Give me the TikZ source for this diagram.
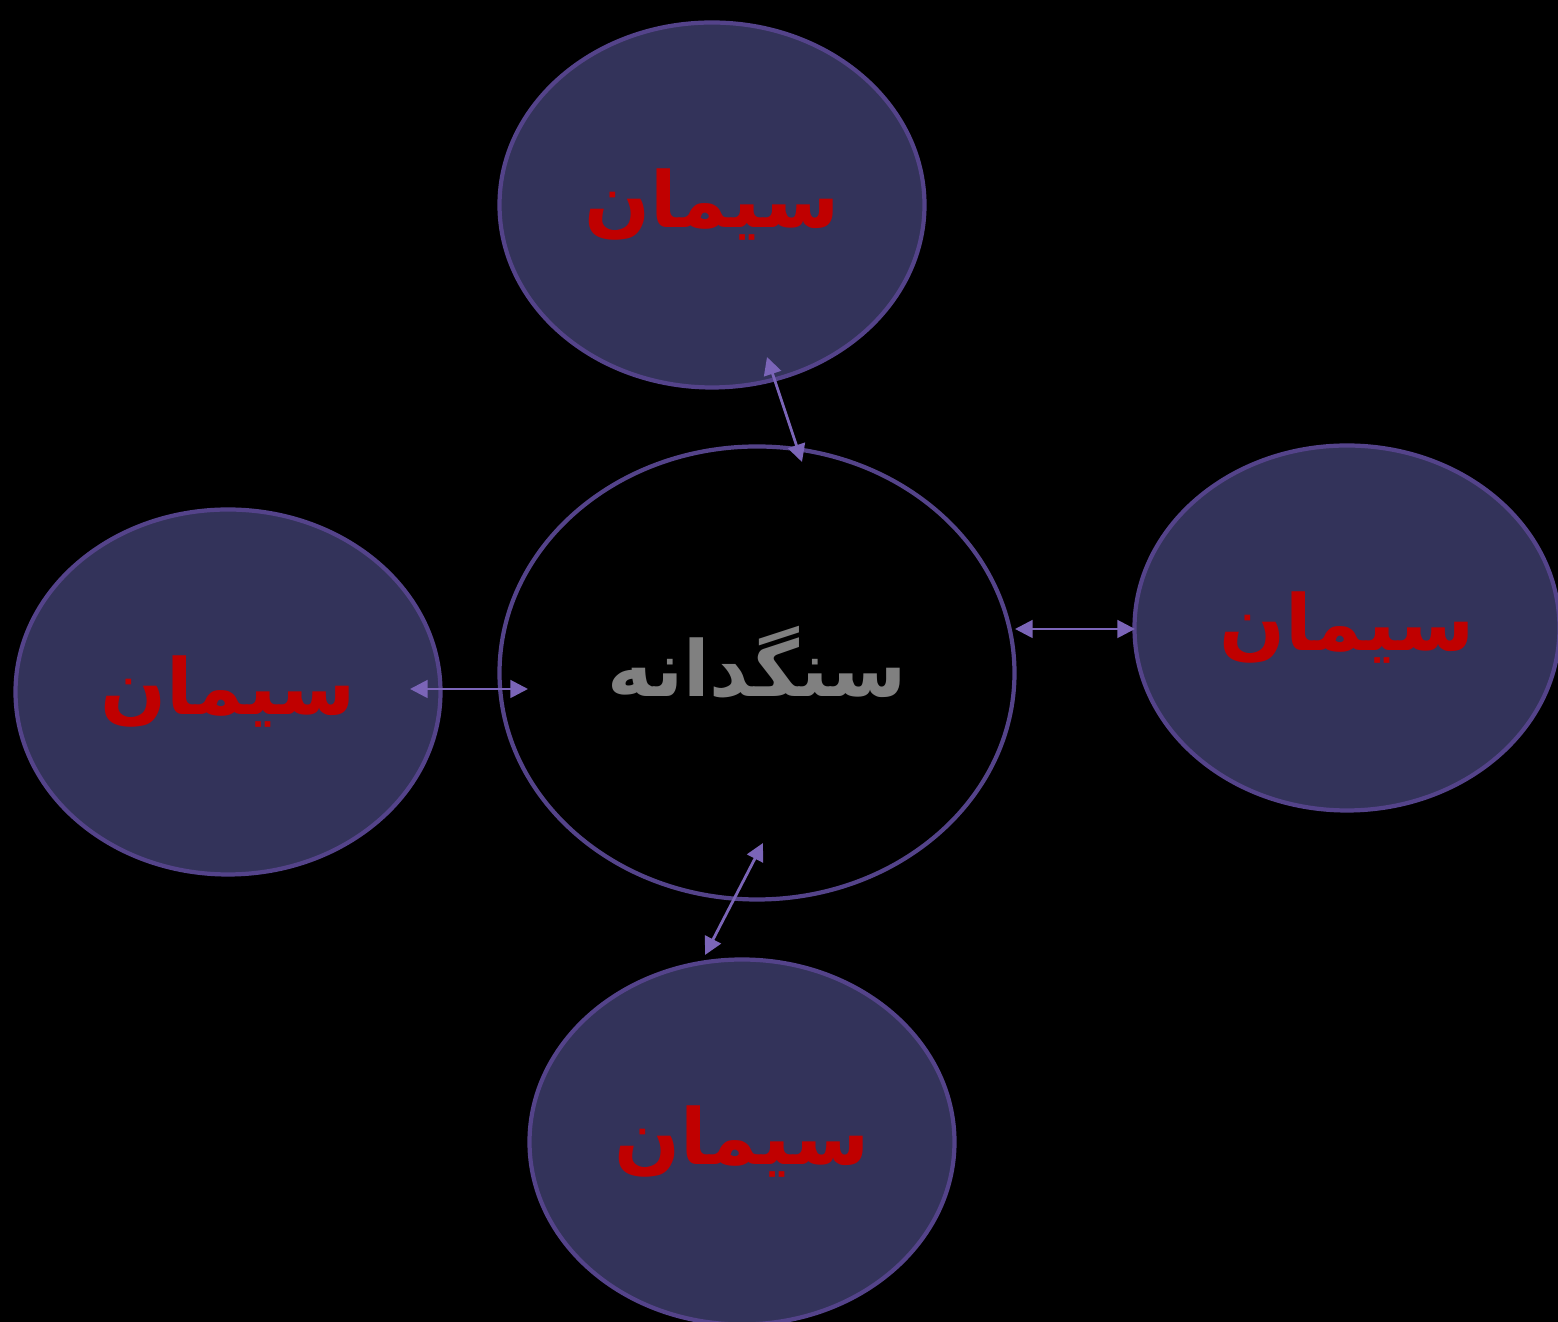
\documentclass[tikz,border=0pt]{standalone}
\usepackage{fontspec}
\newfontfamily\arabicfont[Script=Arabic]{DejaVu Sans}
\TeXXeTstate=1
\usetikzlibrary{arrows.meta, positioning, shapes.geometric}

\definecolor{cellfill}{HTML}{33335A}
\definecolor{cellline}{HTML}{54438A}
\definecolor{linkcol}{HTML}{7B65B8}
\definecolor{cementred}{HTML}{C00000}
\definecolor{stonegray}{HTML}{808080}

\begin{document}
\begin{tikzpicture}[
        cement/.style={ellipse, draw=cellline, fill=cellfill, line width=1.2pt, minimum width=4.25cm, minimum height=3.65cm, inner sep=0pt, text=cementred, font=\arabicfont\bfseries\fontsize{22}{26}\selectfont},
        aggregate/.style={ellipse, draw=cellline, line width=1.2pt, minimum width=5.15cm, minimum height=4.53cm, inner sep=0pt, text=stonegray, font=\arabicfont\bfseries\fontsize{22}{26}\selectfont},
        link/.style={{Triangle[length=5pt, width=5pt]}-{Triangle[length=5pt, width=5pt]}, line width=0.8pt, linkcol}
    ]
        \fill[black] (0,0) rectangle (15.58,13.22);
        \useasboundingbox (0,0) rectangle (15.58,13.22);

        % Center
        \node[aggregate] (stone) at (7.57,6.49) {\raisebox{0.24cm}{\beginR سنگدانه\endR}};

        % Surrounding cement
        \node[cement] (cemTop) at (7.12,11.17) {\beginR سیمان\endR};
        \node[cement] (cemRight) at (13.47,6.94) {\beginR سیمان\endR};
        \node[cement] (cemLeft) at (2.28,6.30) {\beginR سیمان\endR};
        \node[cement] (cemBottom) at (7.42,1.80) {\beginR سیمان\endR};

        % Arrow ends
        \coordinate (topA) at (7.67,9.65);
        \coordinate (topB) at (8.02,8.60);
        \coordinate (rightA) at (10.15,6.93);
        \coordinate (rightB) at (11.35,6.93);
        \coordinate (leftA) at (4.10,6.33);
        \coordinate (leftB) at (5.28,6.33);
        \coordinate (botA) at (7.63,4.79);
        \coordinate (botB) at (7.05,3.67);

        \draw[link] (topA) -- (topB);
        \draw[link] (rightA) -- (rightB);
        \draw[link] (leftA) -- (leftB);
        \draw[link] (botA) -- (botB);

    \end{tikzpicture}
\end{document}
